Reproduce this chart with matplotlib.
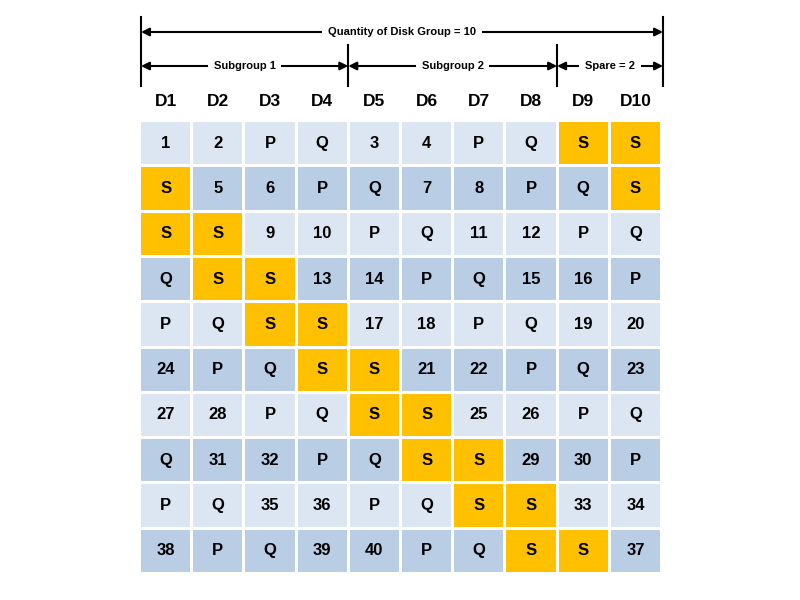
import matplotlib
matplotlib.use("Agg")
import matplotlib.pyplot as plt
from matplotlib.patches import Rectangle

headers = ["D1","D2","D3","D4","D5","D6","D7","D8","D9","D10"]
rows = [
 ["1","2","P","Q","3","4","P","Q","S","S"],
 ["S","5","6","P","Q","7","8","P","Q","S"],
 ["S","S","9","10","P","Q","11","12","P","Q"],
 ["Q","S","S","13","14","P","Q","15","16","P"],
 ["P","Q","S","S","17","18","P","Q","19","20"],
 ["24","P","Q","S","S","21","22","P","Q","23"],
 ["27","28","P","Q","S","S","25","26","P","Q"],
 ["Q","31","32","P","Q","S","S","29","30","P"],
 ["P","Q","35","36","P","Q","S","S","33","34"],
 ["38","P","Q","39","40","P","Q","S","S","37"],
]
top_label = "Quantity of Disk Group = 10"
group_labels = ["Subgroup 1", "Subgroup 2", "Spare = 2"]
group_spans = [(0, 4), (4, 8), (8, 10)]

fig = plt.figure(figsize=(8, 6), dpi=100)
ax = fig.add_axes([0, 0, 1, 1])
ax.set_xlim(0, 800); ax.set_ylim(600, 0); ax.axis("off")

x0, x1, y0, y1 = 141, 663, 122, 575
cw = (x1 - x0) / 10; ch = (y1 - y0) / 10; gap = 3
light, dark, orange = "#DCE6F2", "#B9CDE5", "#FFC000"
for r, row in enumerate(rows):
    for c, v in enumerate(row):
        col = orange if v == "S" else (light if r % 2 == 0 else dark)
        ax.add_patch(Rectangle((x0 + c*cw, y0 + r*ch), cw - gap, ch - gap, color=col, lw=0))
        ax.text(x0 + c*cw + (cw-gap)/2, y0 + r*ch + (ch-gap)/2, v, ha="center", va="center",
                fontsize=12, fontweight="bold", family="Liberation Sans")
for c, h in enumerate(headers):
    ax.text(x0 + c*cw + (cw-gap)/2, 101, h, ha="center", va="center", fontsize=12.5,
            fontweight="bold", family="Liberation Sans")

xb = [x0 + k*cw - (gap/2 if 0 < k < 10 else 0) for k in range(11)]
xb[10] = x1
for xv in (xb[0], xb[10]):
    ax.plot([xv, xv], [17, 86], color="black", lw=1.5)
for xv in (xb[4], xb[8]):
    ax.plot([xv, xv], [45, 86], color="black", lw=1.5)

def arrow(xa, xb_, y, label):
    ax.annotate("", xy=(xa, y), xytext=(xb_, y),
                arrowprops=dict(arrowstyle="<|-|>", color="black", lw=1.5, mutation_scale=12,
                                shrinkA=0, shrinkB=0))
    ax.text((xa + xb_)/2, y, label, ha="center", va="center", fontsize=8, fontweight="bold",
            family="Liberation Sans", bbox=dict(facecolor="white", edgecolor="none", pad=4))

arrow(xb[0], xb[10], 32, top_label)
for (a, b), lab in zip(group_spans, group_labels):
    arrow(xb[a], xb[b], 66, lab)

fig.savefig("out.png", dpi=100)
